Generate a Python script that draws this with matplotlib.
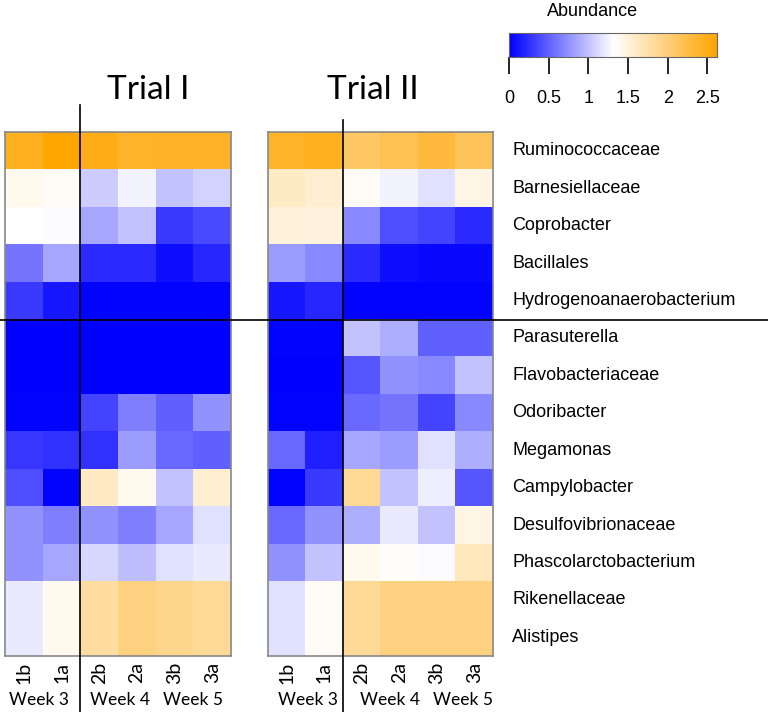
import numpy as np
import matplotlib
matplotlib.use("Agg")
import matplotlib.pyplot as plt
from matplotlib.colors import LinearSegmentedColormap
from matplotlib.lines import Line2D

taxa = ["Ruminococcaceae", "Barnesiellaceae", "Coprobacter", "Bacillales",
        "Hydrogenoanaerobacterium", "Parasuterella", "Flavobacteriaceae",
        "Odoribacter", "Megamonas", "Campylobacter", "Desulfovibrionaceae",
        "Phascolarctobacterium", "Rikenellaceae", "Alistipes"]
samples = ["1b", "1a", "2b", "2a", "3b", "3a"]
weeks = ["Week 3", "Week 4", "Week 5"]
titles = ["Trial I", "Trial II"]

trial1 = [
    [2.45, 2.62, 2.50, 2.40, 2.42, 2.42],
    [1.40, 1.35, 1.05, 1.25, 1.00, 1.08],
    [1.32, 1.29, 0.85, 1.00, 0.30, 0.38],
    [0.60, 0.85, 0.22, 0.22, 0.08, 0.20],
    [0.30, 0.12, 0.02, 0.02, 0.02, 0.02],
    [0.00, 0.00, 0.00, 0.00, 0.00, 0.00],
    [0.00, 0.00, 0.00, 0.00, 0.00, 0.00],
    [0.02, 0.02, 0.35, 0.65, 0.50, 0.75],
    [0.28, 0.25, 0.25, 0.80, 0.55, 0.50],
    [0.40, 0.02, 1.60, 1.40, 1.00, 1.55],
    [0.75, 0.65, 0.75, 0.65, 0.85, 1.15],
    [0.75, 0.85, 1.10, 0.98, 1.15, 1.20],
    [1.20, 1.40, 1.80, 1.95, 1.90, 1.85],
    [1.20, 1.40, 1.80, 1.95, 1.90, 1.85],
]
trial2 = [
    [2.40, 2.45, 2.10, 2.20, 2.30, 2.15],
    [1.60, 1.55, 1.35, 1.25, 1.15, 1.45],
    [1.50, 1.48, 0.70, 0.40, 0.35, 0.22],
    [0.80, 0.70, 0.22, 0.08, 0.05, 0.05],
    [0.12, 0.20, 0.02, 0.02, 0.02, 0.02],
    [0.02, 0.02, 1.00, 0.90, 0.50, 0.50],
    [0.00, 0.00, 0.45, 0.75, 0.70, 1.00],
    [0.02, 0.02, 0.55, 0.60, 0.35, 0.70],
    [0.55, 0.17, 0.85, 0.80, 1.15, 0.90],
    [0.02, 0.30, 1.85, 1.00, 1.22, 0.45],
    [0.55, 0.75, 0.90, 1.20, 1.00, 1.45],
    [0.75, 1.00, 1.40, 1.33, 1.28, 1.65],
    [1.15, 1.35, 1.85, 1.95, 1.95, 1.95],
    [1.15, 1.35, 1.85, 1.95, 1.95, 1.95],
]
cbar_ticks = [0, 0.5, 1, 1.5, 2, 2.5]
vmax = 2.62

W, H = 768, 712
fig = plt.figure(figsize=(W / 100, H / 100), dpi=100)
cmap = LinearSegmentedColormap.from_list("bwo", ["#0000FF", "#FFFFFF", "#FFA500"])
HUM = ["Lato", "DejaVu Sans"]
ARI = ["Liberation Sans", "DejaVu Sans"]

def px_axes(x0, y0, x1, y1):
    return fig.add_axes([x0 / W, 1 - y1 / H, (x1 - x0) / W, (y1 - y0) / H])

panels = [(5, 231), (268, 493)]
week_x = [[39, 120, 193], [308, 390, 463]]
title_x = [148, 373]
y_top, y_bot = 132, 656
for p, ((x0, x1), data, title) in enumerate(zip(panels, [trial1, trial2], titles)):
    ax = px_axes(x0, y_top, x1, y_bot)
    ax.imshow(np.array(data), cmap=cmap, vmin=0, vmax=vmax, aspect="auto",
              interpolation="nearest")
    ax.set_xticks([]); ax.set_yticks([])
    for s in ax.spines.values():
        s.set_color("#888888"); s.set_linewidth(1.2)
    cw = (x1 - x0) / 6
    for i, lab in enumerate(samples):
        fig.text((x0 + cw * (i + 0.5)) / W, 1 - 662 / H, lab, rotation=90,
                 ha="center", va="top", fontsize=14, family=HUM)
    for j, wk in enumerate(weeks):
        fig.text(week_x[p][j] / W, 1 - 700 / H, wk, ha="center", va="center",
                 fontsize=12.5, family=HUM)
    fig.text(title_x[p] / W, 1 - 90 / H, title, ha="center", va="center",
             fontsize=24, family=HUM)

row_h = (y_bot - y_top) / 14
for i, t in enumerate(taxa):
    fig.text(512 / W, 1 - (y_top + row_h * (i + 0.5)) / H, t,
             ha="left", va="center", fontsize=13, family=ARI)

# separator lines
fig.add_artist(Line2D([80 / W, 80 / W], [1 - 105 / H, 0], color="black", lw=1.2))
fig.add_artist(Line2D([343 / W, 343 / W], [1 - 120 / H, 0], color="black", lw=1.2))
fig.add_artist(Line2D([0, 1], [1 - 320 / H, 1 - 320 / H], color="black", lw=1.2))

# colorbar
cax = px_axes(509, 33, 717, 57)
grad = np.linspace(0, vmax, 256).reshape(1, -1)
cax.imshow(grad, cmap=cmap, vmin=0, vmax=vmax, aspect="auto",
           extent=[0, vmax, 0, 1])
cax.set_xlim(0, vmax)
cax.set_yticks([])
cax.set_xticks(cbar_ticks)
cax.set_xticklabels([str(t) for t in cbar_ticks], fontsize=13, family=ARI)
cax.tick_params(axis="x", length=12, width=1.2, pad=12)
for s in cax.spines.values():
    s.set_color("#666666")
fig.text(593 / W, 1 - 12 / H, "Abundance", ha="center", va="center",
         fontsize=13, family=ARI)

fig.savefig("out.png", dpi=100)
